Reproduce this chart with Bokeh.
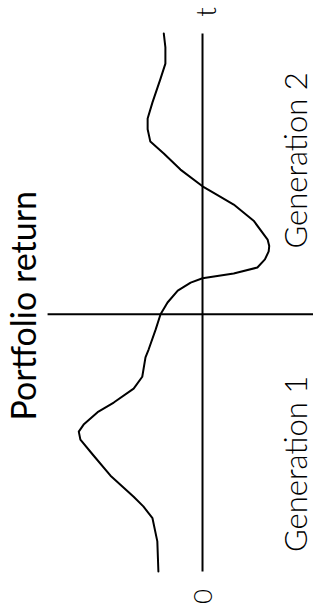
import math
from bokeh.plotting import figure
from bokeh.models import Range1d, ColumnDataSource
from bokeh.core.properties import value
from bokeh.embed import file_html
from bokeh.resources import INLINE

# Time (0 .. 10, generation boundary near 4.78) and portfolio return (positive = drawn to the left)
time_vals = [0.0, 0.56, 0.99, 1.21, 1.39, 1.78, 2.16, 2.45, 2.60, 2.73,
             2.96, 3.14, 3.40, 3.62, 3.98, 4.13, 4.50, 4.78, 5.00, 5.22,
             5.37, 5.45, 5.54, 5.65, 5.80, 5.95, 6.05, 6.17, 6.52, 6.82,
             7.04, 7.16, 7.47, 7.77, 7.99, 8.22, 8.42, 8.72, 9.16, 9.44,
             9.74, 10.0]
return_vals = [0.82, 0.84, 0.93, 1.10, 1.28, 1.71, 2.03, 2.27, 2.30, 2.21,
               1.95, 1.65, 1.28, 1.12, 1.06, 1.00, 0.87, 0.78, 0.65, 0.46,
               0.22, 0.0, -0.58, -1.02, -1.16, -1.23, -1.24, -1.21, -0.95, -0.58,
               -0.20, 0.0, 0.41, 0.72, 0.97, 1.02, 1.02, 0.93, 0.78, 0.69,
               0.69, 0.72]

t_start = 0.0
t_end = 10.0
generation_boundary = 4.78
axis_labels = ["0", "t"]
y_axis_label = "Portfolio return"
generation_labels = ["Generation 1", "Generation 2"]

W, H = 313, 606
p = figure(width=W, height=H, output_backend="svg", toolbar_location=None,
           x_range=Range1d(3.755, -2.063), y_range=Range1d(-0.651, 10.613),
           x_axis_type=None, y_axis_type=None, min_border=0)
p.outline_line_color = None
p.grid.visible = False
p.background_fill_color = "white"
p.border_fill_color = "white"

# time axis (drawn vertically)
p.segment(x0=[0], y0=[t_start], x1=[0], y1=[t_end], line_color="black", line_width=2)
# portfolio return axis at the generation boundary
p.segment(x0=[2.88], y0=[generation_boundary], x1=[-2.12], y1=[generation_boundary],
          line_color="black", line_width=2)

# return curve
src = ColumnDataSource(dict(t=time_vals, r=return_vals))
p.line(x="r", y="t", source=src, line_color="black", line_width=2,
       line_join="round", line_cap="round")

rot = math.pi / 2
# axis end labels
p.text(x=[0.0], y=[-0.465], text=[axis_labels[0]], angle=rot,
       text_font=value("Lato Light"), text_font_size="26px",
       text_align="center", text_baseline="middle", text_color="black")
p.text(x=[-0.04], y=[10.40], text=[axis_labels[1]], angle=rot,
       text_font=value("Lato Light"), text_font_size="28px",
       text_align="center", text_baseline="middle", text_color="black")
# y-axis title
p.text(x=[3.34], y=[4.94], text=[y_axis_label], angle=rot,
       text_font=value("Lato"), text_font_size="34px",
       text_align="center", text_baseline="middle", text_color="black")
# generation labels
p.text(x=[-1.71, -1.71], y=[2.0, 7.64], text=generation_labels, angle=rot,
       text_font=value("Lato Light"), text_font_size="31px",
       text_align="center", text_baseline="middle", text_color="black")

open("out.html", "w").write(file_html(p, INLINE))
